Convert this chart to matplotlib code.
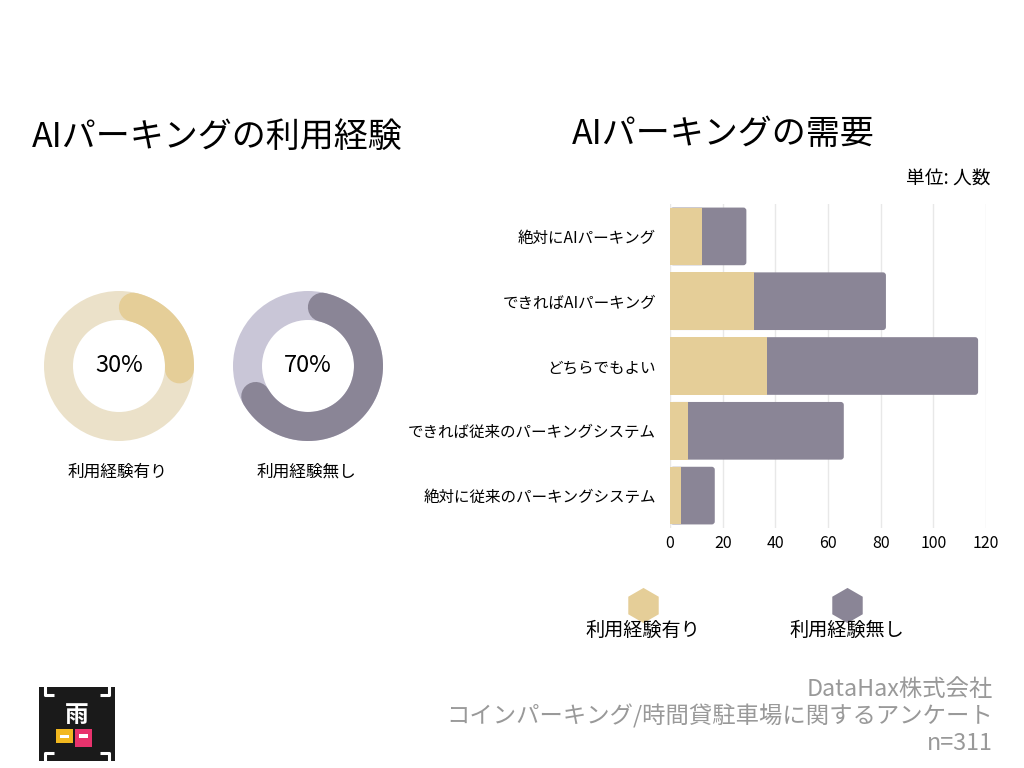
import numpy as np
import matplotlib
matplotlib.use("Agg")
from matplotlib import pyplot as plt
from matplotlib.patches import Wedge, Rectangle, FancyBboxPatch

plt.rcParams['font.family'] = ['Noto Sans CJK JP', 'DejaVu Sans']

# data
categories = ["絶対にAIパーキング", "できればAIパーキング", "どちらでもよい",
              "できれば従来のパーキングシステム", "絶対に従来のパーキングシステム"]
used = [12, 32, 37, 7, 4]
not_used = [17, 50, 80, 59, 13]
series_names = ["利用経験有り", "利用経験無し"]
xticks = [0, 20, 40, 60, 80, 100, 120]

c_yel = "#E5CE98"
c_yel_lt = "#EBE1C9"
c_gry = "#8A8596"
c_gry_lt = "#C9C6D7"

W, H = 1024, 768
fig = plt.figure(figsize=(W / 100, H / 100), dpi=100)

def fx(px):
    return px / W

def fy(py):
    return 1 - py / H

# titles
fig.text(fx(32), fy(137), "AIパーキングの利用経験", fontsize=24.5, va="center", ha="left")
fig.text(fx(572), fy(134), "AIパーキングの需要", fontsize=24.5, va="center", ha="left")
fig.text(fx(990), fy(179), "単位: 人数", fontsize=13.5, va="center", ha="right")

# donuts
total = sum(used) + sum(not_used)
shares = [sum(used) / total, sum(not_used) / total]
centers = [(119, 366), (308, 366)]
colors = [(c_yel, c_yel_lt), (c_gry, c_gry_lt)]
r_out, r_in = 75, 46
r_mid = (r_out + r_in) / 2
lw_px = r_out - r_in
for share, (cx, cy), (c_main, c_track), name in zip(shares, centers, colors, series_names):
    half = 82
    ax = fig.add_axes([fx(cx - half), fy(cy + half), (2 * half) / W, (2 * half) / H])
    ax.set_xlim(-half, half)
    ax.set_ylim(-half, half)
    ax.set_aspect("equal")
    ax.axis("off")
    ax.add_patch(Wedge((0, 0), r_out, 0, 360, width=lw_px, color=c_track, lw=0))
    cap = np.degrees((lw_px / 2) / r_mid)
    th = np.radians(np.linspace(cap, share * 360 - cap, 200))
    ax.plot(r_mid * np.sin(th), r_mid * np.cos(th), color=c_main,
            lw=lw_px * 72 / 100, solid_capstyle="round")
    ax.text(0, 0, f"{round(share * 100)}%", ha="center", va="center", fontsize=17)
    fig.text(fx(cx - 2), fy(472), name, ha="center", va="center", fontsize=12)

# bar chart
ax_l, ax_r, ax_t, ax_b = 670, 986, 204, 528
axb = fig.add_axes([fx(ax_l), fy(ax_b), fx(ax_r) - fx(ax_l), fy(ax_t) - fy(ax_b)])
y = np.arange(len(categories))
bh = 0.89
totals = [u + n for u, n in zip(used, not_used)]
# gray bar drawn over the full length with rounded ends, yellow part on top
px_per_x = (ax_r - ax_l) / 120
px_per_y = (ax_b - ax_t) / len(categories)
rad = 3 / px_per_x
asp = (3 / px_per_y) / rad
for yi, u, t in zip(y, used, totals):
    axb.add_patch(FancyBboxPatch((0, yi - bh / 2), t, bh,
                                 boxstyle=f"round,pad=0,rounding_size={rad}",
                                 mutation_aspect=asp, fc=c_gry, ec="none", zorder=2))
axb.barh(y, used, height=bh, color=c_yel, zorder=3)
axb.set_ylim(len(categories) - 0.5, -0.5)
axb.set_xlim(0, 120)
axb.set_xticks(xticks)
axb.set_yticks(y)
axb.set_yticklabels(categories, fontsize=11.2)
axb.tick_params(axis="x", length=0, labelsize=11.5, pad=5)
axb.tick_params(axis="y", length=0, pad=10)
axb.grid(axis="x", color="#E8E8E8", lw=1, zorder=0)
for s in axb.spines.values():
    s.set_visible(False)

# legend
axl = fig.add_axes([0, 0, 1, 1], zorder=-1)
axl.set_xlim(0, W)
axl.set_ylim(H, 0)
axl.axis("off")
for lx, c, name in zip([643, 847], [c_yel, c_gry], series_names):
    axl.scatter([lx], [605], marker="h", s=640, color=c, lw=0)
    axl.text(lx, 630, name, ha="center", va="center", fontsize=13.8)

# footer
for ty, t in zip([690, 716, 744], ["DataHax株式会社", "コインパーキング/時間貸駐車場に関するアンケート", "n=311"]):
    fig.text(fx(993), fy(ty), t, ha="right", va="center", fontsize=16.8, color="#999999")

# logo
axg = fig.add_axes([fx(39), fy(761), 76 / W, 74 / H])
axg.set_xlim(0, 76)
axg.set_ylim(0, 74)
axg.axis("off")
axg.add_patch(Rectangle((0, 0), 76, 74, color="#1A1A1A", lw=0))
for (x0, y0, dx, dy) in [(6, 66, 1, -1), (70, 66, -1, -1), (6, 8, 1, 1), (70, 8, -1, 1)]:
    axg.plot([x0 + 9 * dx, x0, x0], [y0, y0, y0 - 9 * dy], color="white", lw=2.2, solid_capstyle="butt")
axg.text(38, 46, "雨", color="white", fontsize=17, ha="center", va="center", fontweight="bold")
axg.add_patch(Rectangle((17, 18), 17, 14, color="#F2B81F", lw=0))
axg.add_patch(Rectangle((36, 14), 17, 18, color="#E8336D", lw=0))
axg.add_patch(Rectangle((21, 23), 9, 3, color="white", lw=0))
axg.add_patch(Rectangle((40, 23), 9, 4, color="white", lw=0))

fig.savefig("out.png", dpi=100)
